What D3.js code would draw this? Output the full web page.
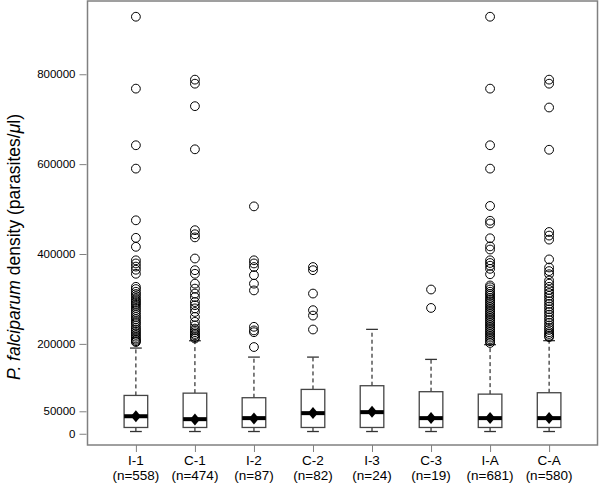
<!DOCTYPE html>
<html><head><meta charset="utf-8">
<script src="https://cdn.jsdelivr.net/npm/d3@7"></script>
<style>body{margin:0;background:#fff}svg{display:block}text{font-family:"Liberation Sans",Arial,Helvetica,sans-serif}</style>
</head><body><svg id="c" width="600" height="484"></svg>
<script>
const categories = ["I-1","C-1","I-2","C-2","I-3","C-3","I-A","C-A"];
const counts = [558,474,87,82,24,19,681,580];
const lowerWhisker = [5000,5000,5000,5000,5000,5000,5000,5000];
const q1 = [14000,14000,14000,14000,14000,14000,14000,14000];
const medians = [39000,32500,34800,45900,48100,34800,34800,34800];
const means = [39000,32000,34000,46000,49000,35000,35000,35000];
const q3 = [85300,90400,80200,98700,106900,93600,88200,91300];
const upperWhisker = [190700,207000,170600,170600,232300,165500,198300,207200];
const outliersI1 = [928,768,642,590,475,436,416,386,379,372,365,356,327,322,316,311,306,301,297,293,289,285,280,275,270,265,260,255,250,246,241,236,232,228,224,220,216,212,209,206,204];
const outliersC1 = [788,779,729,633,453,444,437,390,364,356,334,323,312,304,293,286,279,271,260,249,241,234,230,226,222,219,215,212];
const outliersI2 = [506,386,379,371,353,334,319,238,230,226,193];
const outliersC2 = [371,364,312,275,263,232];
const outliersI3 = [];
const outliersC3 = [321,280];
const outliersIA = [928,768,642,590,507,474,468,435,417,410,386,380,374,367,355,330,326,321,316,311,307,302,298,294,290,286,282,278,274,270,266,262,258,254,250,246,242,238,234,230,226,222,218,214,210,206,202];
const outliersCA = [788,779,726,632,449,441,432,388,370,362,355,341,334,327,320,313,307,301,295,289,283,277,271,265,259,253,247,241,236,231,226,222,218,215];
const yTicks = [0,50000,200000,400000,600000,800000];

const outliers = [outliersI1,outliersC1,outliersI2,outliersC2,outliersI3,outliersC3,outliersIA,outliersCA];
const svg = d3.select("#c");
const L=87.5, R=597.5, T=1, B=445;
const x = d3.scaleLinear().domain([0.18,8.82]).range([L,R]);
const y = d3.scaleLinear().domain([-25000,963000]).range([B,T]);
const boxW = (x(1.4)-x(1));
const capW = boxW/2;

svg.append("rect").attr("x",L).attr("y",T).attr("width",R-L).attr("height",B-T)
  .attr("fill","none").attr("stroke","#808080").attr("stroke-width",1.5);

const yAxis = d3.axisLeft(y).tickValues(yTicks).tickSize(7).tickPadding(4).tickFormat(d=>String(d));
const ga = svg.append("g").attr("transform",`translate(${L-1},0)`).call(yAxis);
ga.select(".domain").remove();
ga.selectAll(".tick line").attr("stroke","#808080");
ga.selectAll(".tick text").attr("font-size",11.5).attr("fill","#000").style("font-family","'Liberation Sans',Arial,sans-serif");

const xAxis = d3.axisBottom(x).tickValues(d3.range(1,9)).tickSize(7).tickFormat("");
const gx = svg.append("g").attr("transform",`translate(0,${B})`).call(xAxis);
gx.select(".domain").remove();
gx.selectAll(".tick line").attr("stroke","#808080");

const g = svg.append("g");
categories.forEach((c,i)=>{
  const cx = x(i+1);
  g.append("line").attr("x1",cx).attr("x2",cx).attr("y1",y(q3[i])).attr("y2",y(upperWhisker[i]))
    .attr("stroke","#000").attr("stroke-width",1).attr("stroke-dasharray","4,3");
  g.append("line").attr("x1",cx).attr("x2",cx).attr("y1",y(q1[i])).attr("y2",y(lowerWhisker[i]))
    .attr("stroke","#000").attr("stroke-width",1).attr("stroke-dasharray","4,3");
  [upperWhisker[i],lowerWhisker[i]].forEach(v=>{
    g.append("line").attr("x1",cx-capW/2).attr("x2",cx+capW/2).attr("y1",y(v)).attr("y2",y(v))
      .attr("stroke","#333").attr("stroke-width",1.3);
  });
  g.append("rect").attr("x",cx-boxW/2).attr("width",boxW).attr("y",y(q3[i])).attr("height",y(q1[i])-y(q3[i]))
    .attr("fill","#fff").attr("stroke","#444").attr("stroke-width",1.3);
  g.append("line").attr("x1",cx-boxW/2).attr("x2",cx+boxW/2).attr("y1",y(medians[i])).attr("y2",y(medians[i]))
    .attr("stroke","#000").attr("stroke-width",4);
  const my = y(means[i]);
  g.append("path").attr("d",`M${cx},${my-6}L${cx+5},${my}L${cx},${my+6}L${cx-5},${my}Z`).attr("fill","#000");
  g.selectAll(null).data(outliers[i]).enter().append("circle")
    .attr("cx",cx).attr("cy",d=>y(d*1000)).attr("r",4.4)
    .attr("fill","none").attr("stroke","#000").attr("stroke-width",1);
  svg.append("text").attr("x",cx).attr("y",465).attr("text-anchor","middle").attr("font-size",13.5).attr("fill","#000").text(c);
  svg.append("text").attr("x",cx).attr("y",479.5).attr("text-anchor","middle").attr("font-size",13.5).attr("fill","#000").text(`(n=${counts[i]})`);
});

const yl = svg.append("text").attr("transform","translate(20,247) rotate(-90)").attr("text-anchor","middle")
  .attr("font-size",17.5).attr("fill","#000");
yl.append("tspan").attr("font-style","italic").text("P. falciparum");
yl.append("tspan").text(" density (parasites/");
yl.append("tspan").attr("font-style","italic").text("μ");
yl.append("tspan").text("l)");
</script></body></html>
